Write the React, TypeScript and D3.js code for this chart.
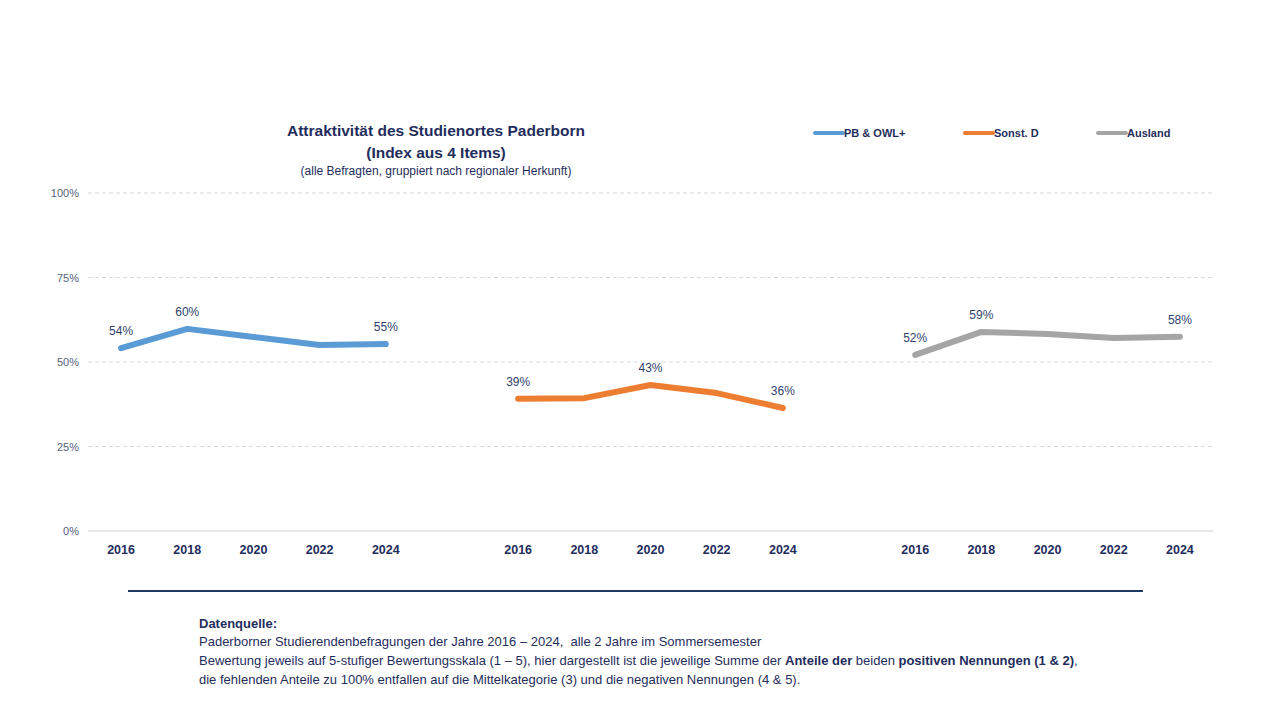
import React from 'react';
import { scaleBand, scaleLinear, line, curveLinear } from 'd3';

const years = ['2016', '2018', '2020', '2022', '2024'];
const seriesNames = ['PB & OWL+', 'Sonst. D', 'Ausland'];
const seriesColors = ['#5b9bd5', '#ed7d31', '#a5a5a5'];
const pbOwl = [54.1, 59.8, 57.4, 55.0, 55.3];
const sonstD = [39.1, 39.3, 43.2, 40.8, 36.4];
const ausland = [52.1, 58.9, 58.3, 57.1, 57.5];
const labelledYears = [
  ['2016', '2018', '2024'],
  ['2016', '2020', '2024'],
  ['2016', '2018', '2024'],
];
const yTicks = [0, 25, 50, 75, 100];

const W = 1273;
const H = 717;
const navy = '#1f2d5c';
const font = '"Liberation Sans Narrow", "Liberation Sans", Arial, sans-serif';

// 17 slots: 5 years, a gap, 5 years, a gap, 5 years
const slots: string[] = [];
seriesNames.forEach((_, g) => {
  years.forEach(y => slots.push(`${g}-${y}`));
  if (g < seriesNames.length - 1) slots.push(`gap-${g}`);
});

export default function App() {
  const x = scaleBand<string>().domain(slots).range([88, 1213]);
  const y = scaleLinear().domain([0, 100]).range([531, 193]);
  const cx = (k: string) => (x(k) as number) + x.bandwidth() / 2;
  const allSeries = [pbOwl, sonstD, ausland];

  return (
    <svg width={W} height={H} style={{ display: 'block', position: 'absolute', left: 0, top: 0 }} fontFamily={font}>
      <rect width={W} height={H} fill="#fff" />

      {/* title */}
      <text x={436} y={136} textAnchor="middle" fontSize={15.5} fontWeight="bold" fill={navy}>
        Attraktivität des Studienortes Paderborn
      </text>
      <text x={436} y={158} textAnchor="middle" fontSize={15.5} fontWeight="bold" fill={navy}>
        (Index aus 4 Items)
      </text>
      <text x={436} y={175} textAnchor="middle" fontSize={12} fill={navy}>
        (alle Befragten, gruppiert nach regionaler Herkunft)
      </text>

      {/* legend */}
      {seriesNames.map((n, i) => {
        const lx = [815, 965, 1098][i];
        return (
          <g key={n}>
            <line x1={lx} x2={lx + 28} y1={133} y2={133} stroke={seriesColors[i]} strokeWidth={4} strokeLinecap="round" />
            <text x={lx + 29} y={137} fontSize={11} fontWeight="bold" fill={navy}>{n}</text>
          </g>
        );
      })}

      {/* grid + y axis */}
      {yTicks.map(t => (
        <g key={t}>
          <line x1={88} x2={1213} y1={y(t)} y2={y(t)} stroke={t === 0 ? '#d0d0d0' : '#d9d9d9'}
            strokeDasharray={t === 0 ? undefined : '4,3'} strokeWidth={1} />
          <text x={79} y={y(t) + 4} textAnchor="end" fontSize={11} fill="#56617f">{t}%</text>
        </g>
      ))}

      {/* x labels */}
      {seriesNames.map((_, g) =>
        years.map(yr => (
          <text key={`${g}-${yr}`} x={cx(`${g}-${yr}`)} y={554} textAnchor="middle" fontSize={12.5} fontWeight="bold" fill={navy}>
            {yr}
          </text>
        ))
      )}

      {/* lines */}
      {allSeries.map((vals, g) => {
        const gen = line<number>()
          .x((_, i) => cx(`${g}-${years[i]}`))
          .y(d => y(d))
          .curve(curveLinear);
        return (
          <g key={g}>
            <path d={gen(vals) || ''} fill="none" stroke={seriesColors[g]} strokeWidth={6} strokeLinecap="round" strokeLinejoin="round" />
            {vals.map((v, i) =>
              labelledYears[g].includes(years[i]) ? (
                <text key={i} x={cx(`${g}-${years[i]}`)} y={y(v) - 13} textAnchor="middle" fontSize={12} fill="#2f3f6e">
                  {Math.round(v)}%
                </text>
              ) : null
            )}
          </g>
        );
      })}

      {/* separator */}
      <line x1={128} x2={1143} y1={591} y2={591} stroke="#1f3864" strokeWidth={2} />

      {/* footnote */}
      <g fontSize={13} fill={navy}>
        <text x={199} y={628} fontWeight="bold">Datenquelle:</text>
        <text x={199} y={646} style={{ whiteSpace: 'pre' }}>Paderborner Studierendenbefragungen der Jahre 2016 – 2024,  alle 2 Jahre im Sommersemester</text>
        <text x={199} y={665}>
          Bewertung jeweils auf 5-stufiger Bewertungsskala (1 – 5), hier dargestellt ist die jeweilige Summe der{' '}
          <tspan fontWeight="bold">Anteile der</tspan> beiden <tspan fontWeight="bold">positiven Nennungen (1 &amp; 2)</tspan>,
        </text>
        <text x={199} y={684}>die fehlenden Anteile zu 100% entfallen auf die Mittelkategorie (3) und die negativen Nennungen (4 &amp; 5).</text>
      </g>
    </svg>
  );
}
